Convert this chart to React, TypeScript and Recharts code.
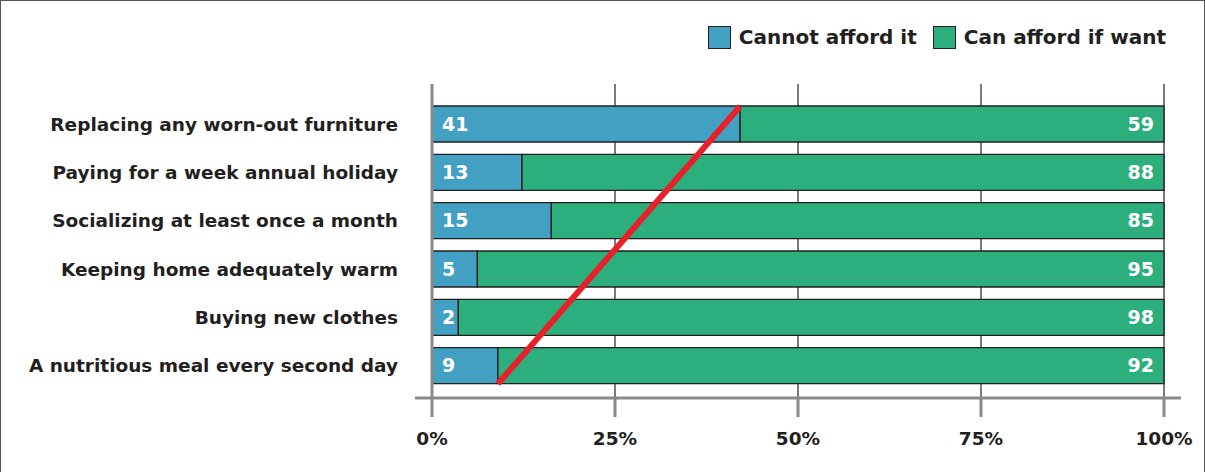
import React from 'react';
import { BarChart, Bar, XAxis, YAxis, CartesianGrid, LabelList, ReferenceLine } from 'recharts';

const categories = [
  'Replacing any worn-out furniture',
  'Paying for a week annual holiday',
  'Socializing at least once a month',
  'Keeping home adequately warm',
  'Buying new clothes',
  'A nutritious meal every second day',
];
// bar lengths as drawn in the picture (%)
const cannotAfford = [42.1, 12.3, 16.3, 6.2, 3.6, 9.0];
const canAfford = [57.9, 87.7, 83.7, 93.8, 96.4, 91.0];
// printed numbers
const cannotLabels = [41, 13, 15, 5, 2, 9];
const canLabels = [59, 88, 85, 95, 98, 92];
const xTicks = [0, 25, 50, 75, 100];

const BLUE = '#42a0c3';
const GREEN = '#2caf7c';
const INK = '#231f20';
const AXIS = '#8a8a8d';
const FONT = '"DejaVu Sans", sans-serif';
const BAR = 36;
const TICK_SIZE = 19;
const TICK_MARGIN = 15;

const data = categories.map((name, i) => ({
  name,
  cannot: cannotAfford[i],
  can: canAfford[i],
  cannotLabel: cannotLabels[i],
  canLabel: canLabels[i],
}));

const legendItems = [
  { c: BLUE, t: 'Cannot afford it' },
  { c: GREEN, t: 'Can afford if want' },
];

const LegendBox = () => (
  <div
    style={{
      position: 'absolute',
      top: 24,
      right: 38,
      display: 'flex',
      gap: 16,
      fontFamily: FONT,
      fontWeight: 700,
      fontSize: 20,
      color: INK,
      zIndex: 2,
    }}
  >
    {legendItems.map((it) => (
      <div key={it.t} style={{ display: 'flex', alignItems: 'center', gap: 8 }}>
        <div style={{ width: 21, height: 21, background: it.c, border: `1.5px solid ${INK}` }} />
        <span>{it.t}</span>
      </div>
    ))}
  </div>
);

// tick label, plus the axis line running a bit past both ends
const XTick = (props: any) => {
  const { x, y, payload, index, visibleTicksCount } = props;
  const axisY = y - TICK_SIZE - TICK_MARGIN;
  const last = visibleTicksCount ? visibleTicksCount - 1 : xTicks.length - 1;
  return (
    <g>
      {index === 0 && <line x1={x - 17} x2={x} y1={axisY} y2={axisY} stroke={AXIS} strokeWidth={3} />}
      {index === last && <line x1={x} x2={x + 17} y1={axisY} y2={axisY} stroke={AXIS} strokeWidth={3} />}
      <text x={x} y={y} dy="0.71em" textAnchor="middle" fill={INK} fontFamily={FONT} fontWeight={700} fontSize={18.5}>
        {`${payload.value}%`}
      </text>
    </g>
  );
};

// red diagonal: from top edge of first bar to bottom edge of last bar
const RedLine = (props: any) => {
  const { x1, y1, x2, y2 } = props;
  return (
    <line
      x1={x1}
      y1={y1 - BAR / 2}
      x2={x2}
      y2={y2 + BAR / 2}
      stroke="#e8202a"
      strokeWidth={6}
    />
  );
};

const App = () => {
  return (
    <div
      style={{
        position: 'absolute',
        left: 0,
        top: 0,
        width: 1205,
        height: 472,
        boxSizing: 'border-box',
        borderTop: '1.5px solid #555',
        borderLeft: '1.5px solid #555',
        borderRight: '1.5px solid #555',
        background: '#fff',
      }}
    >
      <LegendBox />
      <BarChart
        layout="vertical"
        width={1203}
        height={472}
        data={data}
        barSize={BAR}
        margin={{ top: 84, right: 39, left: 0, bottom: 24 }}
        style={{ position: 'absolute', left: -1.5, top: -1.5 }}
      >
        <CartesianGrid horizontal={false} stroke="#333" strokeWidth={1.3} />
        <XAxis
          type="number"
          domain={[0, 100]}
          ticks={xTicks}
          height={50}
          axisLine={{ stroke: AXIS, strokeWidth: 3 }}
          tickLine={{ stroke: AXIS, strokeWidth: 3 }}
          tickSize={TICK_SIZE}
          tickMargin={TICK_MARGIN}
          tick={<XTick />}
        />
        <YAxis
          type="category"
          dataKey="name"
          width={432}
          padding={{ top: 16, bottom: 8 }}
          axisLine={{ stroke: AXIS, strokeWidth: 3 }}
          tickLine={false}
          tickSize={0}
          tickMargin={34}
          tick={{ fill: INK, fontFamily: FONT, fontWeight: 700, fontSize: 18.5 }}
        />
        <Bar dataKey="cannot" stackId="a" fill={BLUE} stroke={INK} strokeWidth={1.3} isAnimationActive={false}>
          <LabelList
            dataKey="cannotLabel"
            position="insideLeft"
            offset={10}
            fill="#fff"
            style={{ fontFamily: FONT, fontWeight: 700, fontSize: 19 }}
          />
        </Bar>
        <Bar dataKey="can" stackId="a" fill={GREEN} stroke={INK} strokeWidth={1.3} isAnimationActive={false}>
          <LabelList
            dataKey="canLabel"
            position="insideRight"
            offset={10}
            fill="#fff"
            style={{ fontFamily: FONT, fontWeight: 700, fontSize: 19 }}
          />
        </Bar>
        <ReferenceLine
          segment={[
            { x: cannotAfford[0], y: categories[0] },
            { x: cannotAfford[5], y: categories[5] },
          ]}
          ifOverflow="visible"
          shape={<RedLine />}
        />
      </BarChart>
    </div>
  );
};

export default App;
